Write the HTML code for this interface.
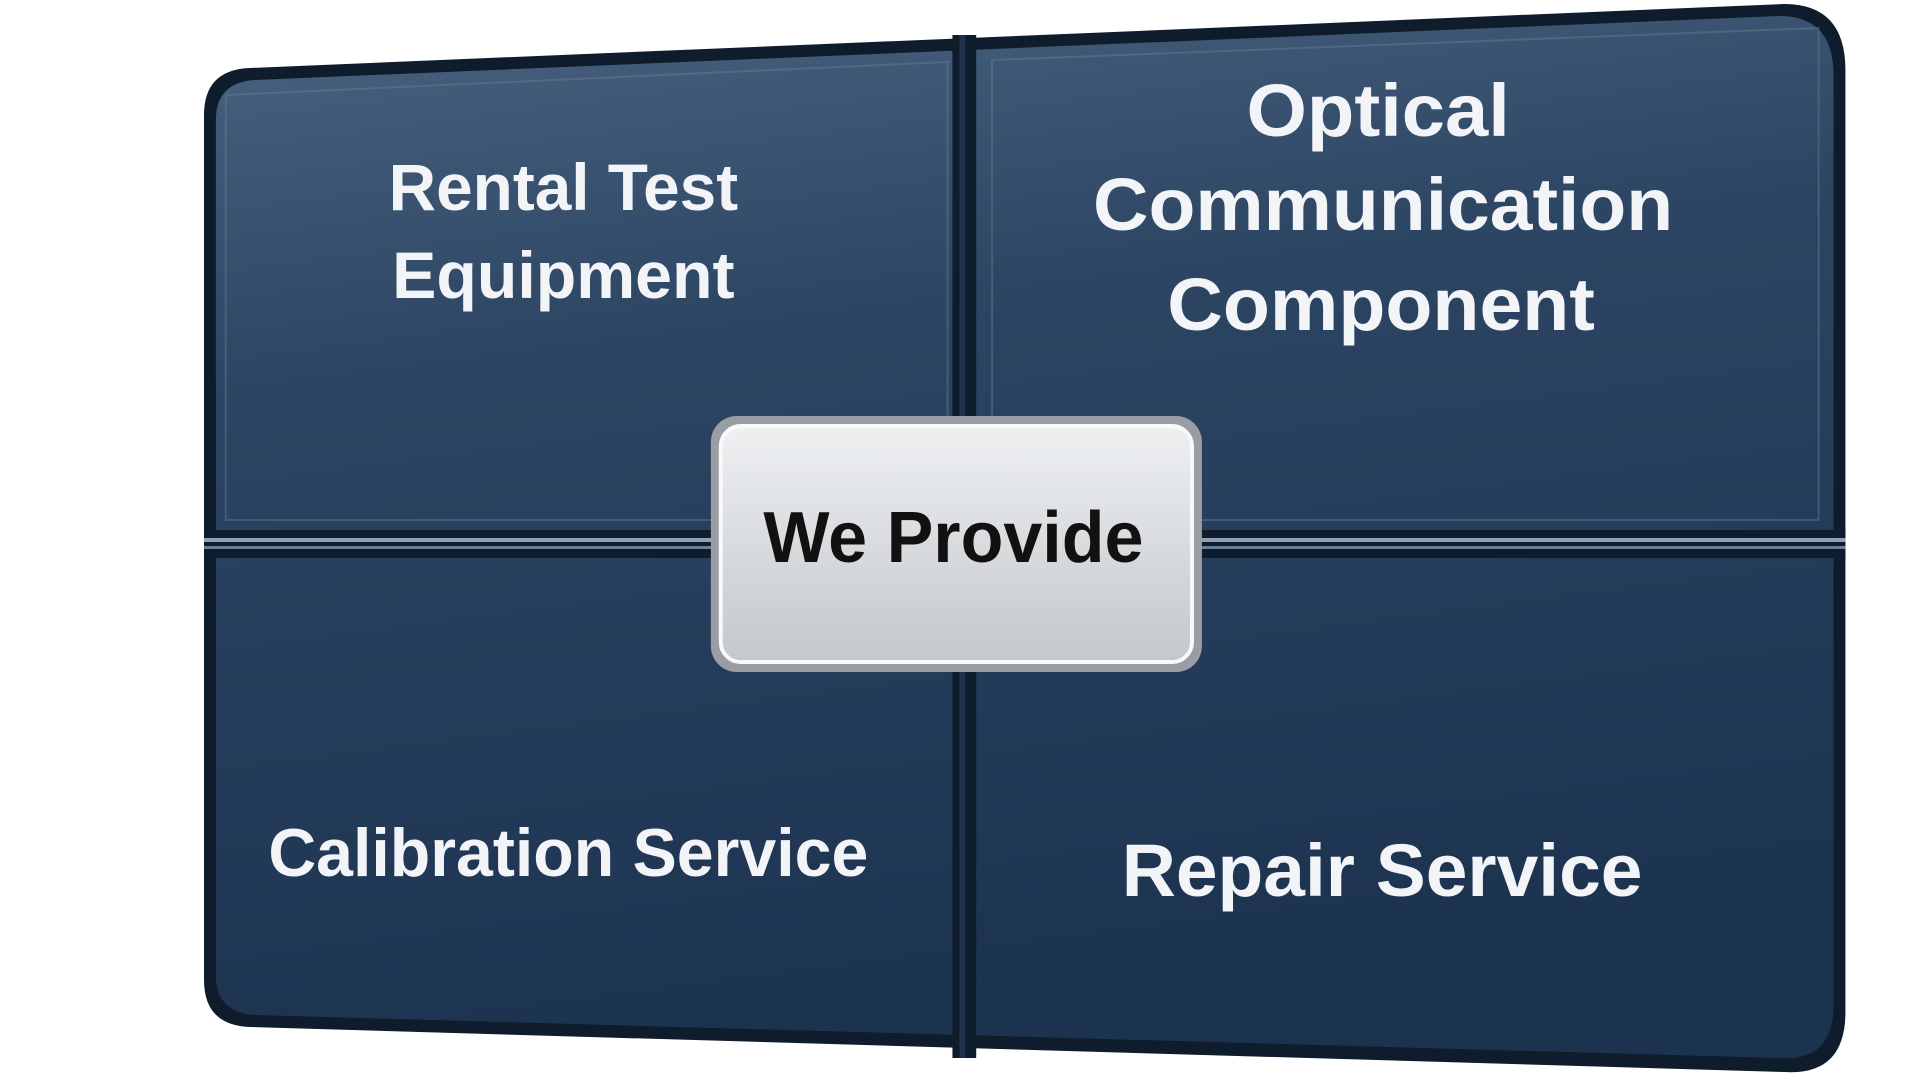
<!DOCTYPE html>
<html><head><meta charset="utf-8"><style>
html,body{margin:0;padding:0;background:#fff;width:1920px;height:1080px;overflow:hidden}
svg{display:block}
text{font-family:"Liberation Sans",sans-serif;font-weight:bold}
</style></head><body>
<svg width="1920" height="1080" viewBox="0 0 1920 1080">
<defs>
<linearGradient id="pg" x1="0" y1="0" x2="0.2" y2="1">
<stop offset="0" stop-color="#4a6380"/><stop offset="0.35" stop-color="#2c4562"/><stop offset="1" stop-color="#1c3350"/>
</linearGradient>
<linearGradient id="cg" x1="0" y1="0" x2="0" y2="1">
<stop offset="0" stop-color="#eef0f2"/><stop offset="1" stop-color="#c4c7cb"/>
</linearGradient>
</defs>
<g transform="translate(204,0) scale(0.99,1) translate(-204,0)">
<path d="M250,68 L1800,4 Q1862,4 1862,70 L1862,1012 Q1862,1076 1800,1072 L250,1027 Q204,1025 204,980 L204,115 Q204,70 250,68 Z" fill="#0f1c2c"/>
<path d="M256,80 L1795,16 Q1850,16 1850,75 L1850,1005 Q1850,1062 1795,1058 L256,1015 Q216,1013 216,975 L216,120 Q216,82 256,80 Z" fill="url(#pg)"/>
<path d="M226,95 L955,62 L955,520 L226,520 Z" fill="none" stroke="#6d839c" stroke-width="2" opacity="0.4"/>
<path d="M1000,60 L1835,28 L1835,520 L1000,520 Z" fill="none" stroke="#6d839c" stroke-width="2" opacity="0.4"/>
<rect x="960" y="35" width="24" height="1023" fill="#0f1c2c"/>
<rect x="967" y="35" width="6" height="1023" fill="#1e3148"/>
<rect x="204" y="530" width="1658" height="28" fill="#0f1c2c"/>
<rect x="204" y="538" width="1658" height="4" fill="#8fa1b5"/>
<rect x="204" y="546" width="1658" height="3" fill="#6b7f96"/>
<rect x="716" y="416" width="496" height="256" rx="26" fill="#9a9ea4"/>
<rect x="726" y="426" width="476" height="236" rx="20" fill="url(#cg)" stroke="#f8f9fa" stroke-width="4"/>
<text x="961" y="562" font-size="72" text-anchor="middle" fill="#111" textLength="384" lengthAdjust="spacingAndGlyphs">We Provide</text>
<g fill="#f2f4f7">
<text x="567" y="210" font-size="66" text-anchor="middle" textLength="353" lengthAdjust="spacingAndGlyphs">Rental Test</text>
<text x="567" y="298" font-size="66" text-anchor="middle" textLength="346" lengthAdjust="spacingAndGlyphs">Equipment</text>
<text x="1390" y="136" font-size="74" text-anchor="middle" textLength="266" lengthAdjust="spacingAndGlyphs">Optical</text>
<text x="1395" y="230" font-size="74" text-anchor="middle" textLength="586" lengthAdjust="spacingAndGlyphs">Communication</text>
<text x="1393" y="330" font-size="74" text-anchor="middle" textLength="432" lengthAdjust="spacingAndGlyphs">Component</text>
<text x="572" y="876" font-size="68" text-anchor="middle" textLength="606" lengthAdjust="spacingAndGlyphs">Calibration Service</text>
<text x="1394" y="896" font-size="74" text-anchor="middle" textLength="526" lengthAdjust="spacingAndGlyphs">Repair Service</text>
</g>
</g>
</svg>
</body></html>
